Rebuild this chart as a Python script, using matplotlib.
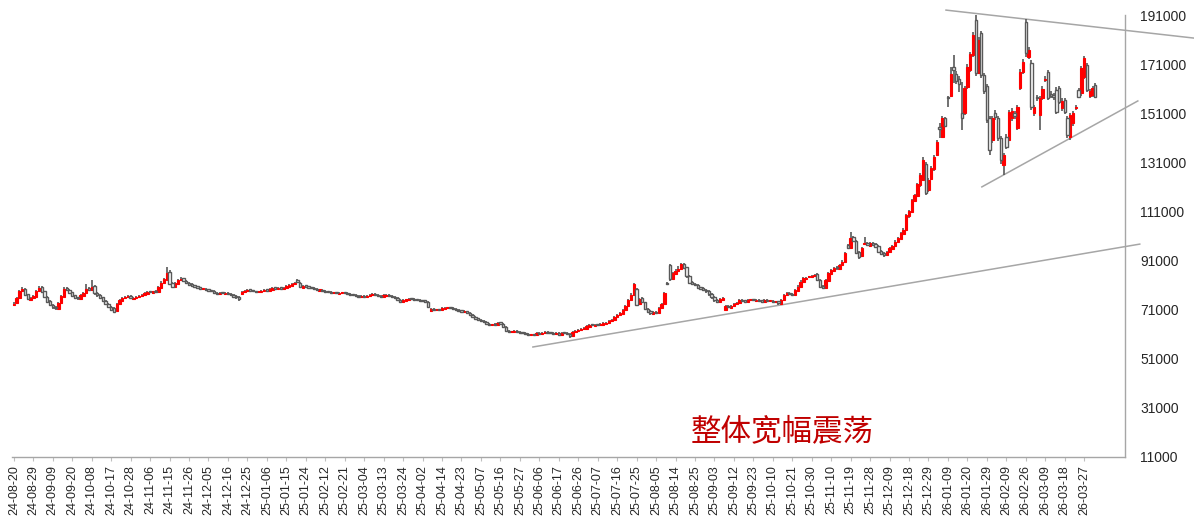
import matplotlib
matplotlib.use("Agg")
import matplotlib.pyplot as plt
import numpy as np

# daily OHLC in thousands
opens = [
    72.8, 73.6, 75.6, 78.4, 79.4, 77.2, 75.0, 75.9, 76.2, 78.5,
    80.2, 78.4, 76.1, 74.4, 72.9, 72.2, 71.4, 73.6, 76.3, 79.8,
    79.2, 78.0, 76.8, 75.9, 75.4, 76.6, 77.6, 79.8, 79.0, 80.6,
    77.8, 77.0, 76.0, 74.7, 73.4, 72.2, 71.6, 70.6, 73.2, 74.6,
    75.6, 76.0, 76.4, 75.4, 75.7, 76.0, 76.4, 77.1, 77.5, 78.4,
    77.8, 78.6, 78.2, 80.0, 81.8, 83.2, 86.4, 81.8, 80.2, 81.6,
    83.2, 83.8, 82.8, 82.0, 81.4, 80.6, 80.5, 80.1, 79.3, 79.5,
    79.2, 78.9, 78.6, 77.9, 77.3, 77.9, 77.4, 77.9, 77.3, 77.1,
    76.5, 76.2, 77.4, 78.0, 78.4, 79.1, 78.9, 78.5, 78.0, 78.3,
    78.6, 79.3, 78.5, 79.2, 79.9, 79.5, 79.9, 79.5, 79.9, 80.4,
    80.8, 81.3, 83.2, 82.0, 80.0, 80.8, 80.5, 80.1, 79.9, 79.5,
    78.8, 79.1, 78.7, 78.4, 78.1, 77.6, 77.9, 77.5, 77.6, 77.9,
    77.7, 77.3, 77.1, 77.0, 76.7, 76.2, 76.5, 76.1, 76.5, 76.9,
    77.5, 77.1, 76.7, 76.2, 76.7, 77.1, 76.5, 76.1, 75.7, 75.1,
    74.2, 74.7, 74.9, 75.5, 75.3, 75.1, 74.9, 74.5, 74.5, 74.2,
    70.6, 71.3, 70.8, 71.1, 70.8, 71.4, 71.5, 71.9, 71.7, 71.3,
    71.0, 70.7, 70.1, 70.3, 69.6, 68.9, 68.2, 67.5, 66.9, 66.5,
    66.0, 65.3, 64.6, 65.0, 64.9, 65.8, 65.3, 64.0, 62.4, 61.8,
    61.9, 62.3, 62.1, 61.7, 61.5, 61.1, 60.6, 60.9, 60.6, 61.5,
    61.1, 61.3, 62.1, 61.7, 61.5, 61.1, 61.5, 60.7, 61.5, 61.5,
    61.1, 60.3, 61.9, 62.3, 62.6, 63.1, 63.3, 64.1, 64.9, 64.5,
    64.9, 64.7, 64.9, 65.3, 65.5, 66.3, 66.7, 68.0, 68.7, 69.4,
    70.8, 72.5, 74.8, 76.8, 79.5, 73.2, 75.8, 74.0, 71.4, 70.4,
    69.4, 70.2, 69.8, 71.5, 73.3, 81.8, 89.0, 83.4, 85.6, 86.6,
    87.6, 89.6, 88.2, 84.8, 82.2, 81.6, 81.2, 79.9, 79.8, 79.2,
    78.6, 77.4, 76.2, 75.0, 74.1, 75.0, 71.0, 72.6, 71.8, 72.4,
    73.2, 73.7, 75.1, 74.8, 74.2, 74.8, 75.2, 74.6, 75.0, 74.7,
    74.2, 75.0, 74.4, 74.7, 74.0, 74.4, 73.5, 74.8, 76.8, 77.8,
    77.4, 76.9, 78.8, 80.2, 82.2, 83.6, 84.2, 84.3, 84.6, 85.4,
    83.2, 80.6, 79.7, 82.8, 85.6, 86.8, 88.0, 87.6, 89.0, 90.4,
    97.2, 96.0, 100.4, 98.8, 94.4, 92.8, 97.8, 98.2, 97.1, 98.2,
    97.6, 96.9, 94.8, 94.0, 93.1, 94.4, 95.8, 96.8, 98.5, 99.9,
    101.9, 103.4, 109.0, 110.6, 115.2, 117.2, 121.6, 124.0, 130.5, 119.7,
    124.4, 128.2, 134.0, 145.5, 141.5, 149.0, 157.5, 158.0, 170.0, 167.0,
    165.0, 151.0, 151.0, 161.8, 168.5, 174.7, 189.0, 167.5, 183.5, 166.6,
    162.0, 149.0, 140.1, 151.0, 149.0, 141.0, 129.9, 141.4, 140.1, 149.0,
    151.0, 145.0, 161.2, 167.9, 188.0, 174.0, 171.5, 151.0, 157.5, 150.3,
    157.0, 164.5, 167.9, 159.0, 158.5, 160.5, 161.2, 153.0, 156.4, 149.0,
    141.4, 147.0, 153.2, 160.5, 159.1, 165.9, 170.6, 158.0, 158.5, 162.5,
]
highs = [
    74.0, 76.2, 79.2, 80.3, 79.8, 77.5, 76.3, 76.9, 79.0, 80.6,
    80.8, 78.7, 76.5, 74.8, 73.3, 72.6, 74.2, 76.9, 80.2, 80.4,
    79.6, 78.3, 77.1, 76.3, 77.2, 78.3, 81.4, 80.3, 83.2, 81.0,
    78.2, 77.4, 76.3, 75.0, 73.7, 72.5, 72.0, 73.8, 75.2, 76.3,
    76.5, 76.8, 76.8, 76.2, 76.6, 77.0, 77.4, 78.0, 78.7, 78.8,
    78.8, 79.0, 80.6, 82.5, 84.0, 88.2, 87.0, 82.2, 82.3, 83.6,
    84.2, 84.1, 83.1, 82.3, 81.7, 81.0, 80.8, 80.4, 79.8, 79.8,
    79.5, 79.2, 78.9, 78.2, 78.2, 78.2, 78.2, 78.2, 77.6, 77.4,
    76.8, 76.5, 78.7, 79.0, 79.5, 79.4, 79.2, 78.8, 78.8, 79.2,
    79.6, 79.6, 79.8, 80.2, 80.2, 80.2, 80.2, 80.4, 81.0, 81.5,
    81.9, 82.3, 83.6, 82.3, 81.0, 81.1, 80.8, 80.4, 80.2, 79.8,
    79.4, 79.4, 79.0, 78.7, 78.4, 78.2, 78.2, 78.1, 78.2, 78.2,
    78.0, 77.6, 77.4, 77.3, 77.0, 76.8, 76.8, 77.0, 77.4, 77.8,
    77.8, 77.4, 77.0, 77.2, 77.4, 77.4, 76.8, 76.4, 76.0, 75.4,
    75.2, 75.4, 75.8, 75.8, 75.6, 75.4, 75.2, 74.8, 74.8, 74.4,
    71.6, 71.6, 71.4, 71.4, 71.9, 72.0, 72.2, 72.2, 72.0, 71.6,
    71.3, 71.0, 70.8, 70.6, 69.9, 69.2, 68.5, 67.8, 67.2, 66.8,
    66.3, 65.6, 65.3, 65.4, 66.1, 66.1, 65.6, 64.3, 62.7, 62.4,
    62.6, 62.6, 62.4, 62.0, 61.8, 61.4, 61.2, 61.2, 61.8, 61.8,
    61.8, 62.4, 62.4, 62.0, 61.8, 61.8, 61.8, 61.8, 61.8, 61.8,
    61.4, 62.4, 62.8, 63.1, 63.6, 63.8, 64.6, 65.2, 65.2, 65.2,
    65.2, 65.4, 65.8, 66.0, 66.8, 67.2, 68.5, 69.2, 70.0, 71.4,
    73.1, 75.4, 77.6, 82.0, 80.0, 75.9, 76.2, 74.3, 71.8, 70.8,
    70.5, 70.6, 72.0, 73.7, 78.3, 82.2, 89.6, 86.3, 87.4, 88.6,
    90.2, 90.0, 88.5, 85.1, 82.6, 82.0, 81.5, 80.3, 80.1, 79.5,
    78.9, 77.7, 76.5, 75.4, 75.6, 76.2, 72.8, 73.0, 73.0, 73.8,
    74.2, 75.3, 75.5, 75.1, 75.3, 75.5, 75.5, 75.3, 75.3, 75.0,
    75.3, 75.3, 75.0, 75.0, 74.7, 74.7, 75.3, 77.4, 78.0, 78.1,
    77.7, 79.4, 80.9, 82.9, 84.3, 84.5, 84.9, 85.3, 85.7, 85.8,
    83.5, 81.0, 83.4, 86.3, 87.5, 88.3, 88.6, 89.7, 91.1, 94.6,
    97.8, 102.8, 101.0, 99.2, 94.8, 96.5, 100.5, 98.6, 98.5, 98.6,
    98.0, 97.2, 95.2, 94.4, 95.0, 96.4, 97.4, 99.2, 100.6, 102.6,
    104.2, 110.0, 111.6, 116.1, 118.2, 122.6, 126.8, 133.0, 131.0, 124.5,
    129.4, 134.0, 140.2, 147.2, 149.8, 149.6, 158.2, 170.0, 174.7, 168.0,
    166.2, 163.8, 162.0, 171.0, 176.0, 184.2, 191.0, 182.0, 184.5, 167.4,
    163.0, 149.8, 150.0, 152.5, 150.0, 141.8, 135.0, 142.5, 152.5, 153.2,
    152.0, 154.4, 169.0, 173.2, 189.5, 178.0, 172.5, 154.5, 158.6, 158.0,
    162.0, 166.0, 168.8, 160.0, 159.4, 161.5, 162.2, 157.0, 157.4, 149.8,
    151.2, 152.0, 154.4, 161.4, 170.2, 174.5, 171.5, 161.0, 162.0, 163.4,
]
lows = [
    72.4, 73.3, 75.3, 78.0, 76.6, 74.8, 74.6, 75.5, 75.9, 78.2,
    77.8, 75.6, 73.9, 72.4, 71.4, 71.0, 71.1, 73.3, 76.0, 78.5,
    77.4, 76.2, 75.3, 75.1, 75.0, 76.3, 77.3, 78.7, 78.6, 77.1,
    76.3, 75.5, 74.0, 72.8, 71.5, 70.4, 69.6, 70.3, 72.9, 74.3,
    75.2, 75.7, 75.2, 75.0, 75.4, 75.7, 76.1, 76.8, 77.2, 77.6,
    77.4, 77.6, 77.9, 79.7, 81.5, 82.9, 81.0, 79.9, 79.8, 81.2,
    82.8, 82.2, 81.4, 80.8, 80.4, 80.0, 79.6, 79.2, 79.0, 78.6,
    78.4, 78.0, 77.4, 77.0, 77.0, 77.2, 77.1, 76.8, 76.6, 75.9,
    75.2, 74.6, 77.0, 77.7, 78.1, 78.4, 78.0, 77.8, 77.7, 78.0,
    78.3, 78.2, 78.2, 78.9, 79.2, 79.2, 79.2, 79.2, 79.6, 80.1,
    80.5, 81.0, 81.8, 79.8, 79.7, 80.0, 79.6, 79.4, 79.0, 78.6,
    78.5, 78.2, 77.9, 77.6, 77.3, 77.3, 77.2, 77.2, 77.3, 77.2,
    76.8, 76.6, 76.5, 76.2, 75.9, 75.9, 75.8, 75.8, 76.2, 76.6,
    76.6, 76.2, 75.9, 75.9, 76.4, 76.0, 75.6, 75.2, 74.6, 73.8,
    73.9, 74.4, 74.6, 74.8, 74.6, 74.4, 74.2, 74.0, 73.9, 71.6,
    70.2, 70.5, 70.5, 70.5, 70.5, 71.1, 71.2, 71.2, 70.8, 70.5,
    70.2, 69.8, 69.8, 69.1, 68.4, 67.7, 67.0, 66.4, 66.0, 65.7,
    64.8, 64.4, 64.3, 64.4, 64.6, 64.8, 63.7, 61.9, 61.6, 61.5,
    61.6, 61.6, 61.2, 61.0, 60.6, 60.3, 60.3, 60.3, 60.3, 60.8,
    60.8, 61.0, 61.2, 61.0, 60.8, 60.8, 60.4, 60.4, 61.0, 60.6,
    59.6, 60.0, 61.6, 62.0, 62.3, 62.8, 63.0, 63.8, 64.2, 64.2,
    64.4, 64.4, 64.6, 65.0, 65.2, 66.0, 66.4, 67.7, 68.4, 69.1,
    70.5, 72.2, 74.5, 76.5, 72.4, 72.8, 73.8, 70.7, 69.7, 69.0,
    68.9, 69.1, 69.5, 71.2, 73.0, 80.9, 82.8, 83.0, 85.2, 86.2,
    87.2, 87.5, 84.1, 81.5, 80.9, 80.5, 79.3, 79.1, 78.5, 77.9,
    76.7, 75.5, 74.3, 73.8, 73.8, 74.7, 70.5, 71.6, 71.5, 72.1,
    72.9, 73.4, 74.2, 73.9, 73.9, 74.5, 74.4, 74.3, 74.2, 73.9,
    73.9, 74.2, 74.1, 73.8, 73.7, 73.1, 73.2, 74.5, 76.5, 76.8,
    76.6, 76.6, 78.5, 79.9, 81.9, 83.2, 83.8, 84.0, 84.3, 82.5,
    79.9, 79.3, 79.4, 82.5, 85.3, 86.5, 87.3, 87.3, 88.7, 90.1,
    95.6, 95.6, 98.5, 93.5, 91.8, 92.4, 97.2, 96.8, 96.7, 96.9,
    96.2, 94.1, 93.3, 92.6, 92.8, 94.1, 95.5, 96.5, 98.2, 99.6,
    101.5, 103.1, 108.5, 110.2, 114.8, 116.8, 121.0, 123.5, 117.5, 119.0,
    123.8, 127.6, 133.4, 141.0, 140.8, 145.2, 153.6, 157.5, 163.2, 162.8,
    159.8, 144.2, 150.2, 161.0, 167.8, 174.0, 166.2, 166.8, 165.5, 158.8,
    147.0, 134.0, 139.0, 148.2, 139.8, 130.5, 125.8, 136.5, 139.5, 148.0,
    148.8, 144.2, 160.5, 167.0, 174.0, 173.0, 152.5, 150.0, 156.0, 144.2,
    156.2, 163.6, 156.2, 157.0, 156.5, 150.5, 154.8, 152.0, 150.6, 140.8,
    140.2, 146.0, 152.4, 157.0, 158.2, 165.0, 159.6, 157.0, 157.6, 157.0,
]
closes = [
    73.5, 75.8, 78.5, 79.6, 77.0, 75.2, 75.8, 76.4, 78.6, 80.0,
    78.2, 76.0, 74.2, 72.8, 72.0, 71.6, 73.8, 76.5, 79.6, 79.0,
    77.8, 76.6, 75.8, 75.6, 76.8, 77.8, 79.6, 79.2, 80.4, 77.6,
    76.8, 75.9, 74.5, 73.2, 72.0, 71.0, 70.2, 73.4, 74.8, 75.8,
    76.0, 76.3, 75.6, 75.8, 76.2, 76.6, 77.0, 77.6, 78.2, 78.0,
    78.4, 78.0, 80.2, 82.0, 83.4, 86.0, 81.6, 80.4, 81.8, 83.0,
    83.6, 82.6, 81.8, 81.2, 80.8, 80.4, 80.0, 79.6, 79.4, 79.0,
    78.8, 78.4, 77.8, 77.4, 77.8, 77.6, 77.8, 77.2, 77.0, 76.3,
    76.0, 75.2, 78.2, 78.6, 79.0, 78.8, 78.4, 78.2, 78.4, 78.8,
    79.2, 78.6, 79.4, 79.8, 79.6, 79.8, 79.6, 80.0, 80.6, 81.0,
    81.4, 81.8, 82.2, 80.2, 80.6, 80.4, 80.0, 79.8, 79.4, 79.0,
    79.0, 78.6, 78.3, 78.0, 77.7, 77.8, 77.6, 77.7, 77.8, 77.6,
    77.2, 77.0, 76.9, 76.6, 76.3, 76.4, 76.2, 76.6, 77.0, 77.4,
    77.0, 76.6, 76.3, 76.8, 77.0, 76.4, 76.0, 75.6, 75.0, 74.3,
    74.8, 75.0, 75.4, 75.2, 75.0, 74.8, 74.6, 74.4, 74.3, 72.0,
    71.2, 70.9, 71.0, 70.9, 71.5, 71.6, 71.8, 71.6, 71.2, 70.9,
    70.6, 70.2, 70.4, 69.5, 68.8, 68.1, 67.4, 66.8, 66.4, 66.1,
    65.2, 64.8, 64.9, 64.8, 65.7, 65.2, 64.1, 62.3, 62.0, 62.0,
    62.2, 62.0, 61.6, 61.4, 61.0, 60.7, 60.8, 60.7, 61.4, 61.2,
    61.4, 62.0, 61.6, 61.4, 61.2, 61.4, 60.8, 61.4, 61.4, 61.0,
    60.2, 62.0, 62.4, 62.7, 63.2, 63.4, 64.2, 64.8, 64.6, 64.8,
    64.8, 65.0, 65.4, 65.6, 66.4, 66.8, 68.1, 68.8, 69.5, 70.9,
    72.6, 74.9, 77.0, 81.4, 73.0, 75.4, 74.3, 71.2, 70.2, 69.5,
    70.0, 69.6, 71.6, 73.2, 77.8, 81.6, 83.4, 85.8, 86.8, 87.4,
    89.4, 88.0, 84.6, 82.0, 81.4, 81.0, 79.8, 79.6, 79.0, 78.4,
    77.2, 76.0, 74.8, 74.3, 75.2, 75.7, 72.4, 72.0, 72.6, 73.4,
    73.8, 74.9, 74.6, 74.3, 74.9, 75.1, 74.8, 74.9, 74.6, 74.3,
    74.9, 74.6, 74.6, 74.2, 74.3, 73.6, 74.9, 77.0, 77.6, 77.2,
    77.0, 79.0, 80.4, 82.4, 83.8, 84.0, 84.4, 84.8, 85.1, 83.0,
    80.4, 79.8, 83.0, 85.8, 87.0, 87.8, 87.8, 89.2, 90.6, 94.0,
    96.2, 100.2, 99.0, 94.0, 92.6, 96.0, 98.0, 97.3, 98.0, 97.4,
    96.7, 94.6, 93.8, 93.3, 94.6, 96.0, 97.0, 98.7, 100.1, 102.1,
    103.6, 109.5, 111.0, 115.5, 117.5, 122.0, 126.0, 132.0, 118.5, 123.8,
    128.7, 133.3, 139.4, 144.5, 149.0, 146.0, 157.0, 167.0, 168.5, 164.0,
    163.0, 149.0, 161.2, 170.0, 175.0, 182.9, 167.5, 180.8, 166.6, 160.0,
    148.2, 136.0, 149.0, 149.5, 141.0, 132.0, 134.0, 137.4, 151.6, 152.0,
    150.0, 153.6, 167.9, 172.0, 175.4, 176.7, 153.6, 153.6, 157.0, 157.1,
    161.0, 165.0, 157.1, 158.0, 157.5, 151.6, 155.7, 156.0, 151.6, 142.1,
    150.3, 151.0, 153.6, 157.8, 169.3, 173.4, 160.5, 160.0, 161.2, 157.8,
]

tick_labels = [
    '24-08-20', '24-08-29', '24-09-09', '24-09-20', '24-10-08', '24-10-17',
    '24-10-28', '24-11-06', '24-11-15', '24-11-26', '24-12-05', '24-12-16',
    '24-12-25', '25-01-06', '25-01-15', '25-01-24', '25-02-12', '25-02-21',
    '25-03-04', '25-03-13', '25-03-24', '25-04-02', '25-04-14', '25-04-23',
    '25-05-07', '25-05-16', '25-05-27', '25-06-06', '25-06-17', '25-06-26',
    '25-07-07', '25-07-16', '25-07-25', '25-08-05', '25-08-14', '25-08-25',
    '25-09-03', '25-09-12', '25-09-23', '25-10-10', '25-10-21', '25-10-30',
    '25-11-10', '25-11-19', '25-11-28', '25-12-09', '25-12-18', '25-12-29',
    '26-01-09', '26-01-20', '26-01-29', '26-02-09', '26-02-26', '26-03-09',
    '26-03-18', '26-03-27',
]
y_ticks = [11000, 31000, 51000, 71000, 91000, 111000, 131000, 151000, 171000, 191000]

# hand-drawn trend lines: (candle index, price)
support_long = [(186.7, 55800), (405.0, 97700)]
resist_top = [(335.3, 193000), (424.5, 181600)]
support_short = [(348.2, 121000), (404.3, 156000)]

note_text = '整体宽幅震荡'

o = np.array(opens) * 1000
h = np.array(highs) * 1000
l = np.array(lows) * 1000
c = np.array(closes) * 1000
x = np.arange(len(c))
up = c >= o

fig = plt.figure(figsize=(11.94, 5.23), dpi=100)
ax = fig.add_axes([0.010, 0.1262, 0.932, 0.8451])

wick = '#595959'
ax.vlines(x, l, h, color=wick, linewidth=1.2, zorder=2)
body_lo = np.minimum(o, c)
body_h = np.maximum(np.abs(c - o), 450)
ax.bar(x[up], body_h[up], bottom=body_lo[up], width=0.85,
       color='#FF0000', edgecolor='#FF0000', linewidth=0.8, zorder=3)
ax.bar(x[~up], body_h[~up], bottom=body_lo[~up], width=0.85,
       color='white', edgecolor=wick, linewidth=1.0, zorder=3)

for line in (support_long, resist_top, support_short):
    xs, ys = zip(*line)
    ax.plot(xs, ys, color='#A6A6A6', linewidth=1.1, clip_on=False, zorder=1)

ax.set_xlim(-0.7, 399.6)
ax.set_ylim(11000, 191000)

ax.set_xticks(np.arange(len(tick_labels)) * 7)
ax.set_xticklabels(tick_labels, rotation=90, fontsize=9,
                   family=['Liberation Sans', 'DejaVu Sans'])
ax.set_yticks(y_ticks)
ax.set_yticklabels([str(v) for v in y_ticks], fontsize=10,
                   family=['Liberation Sans', 'DejaVu Sans'])
ax.yaxis.tick_right()
ax.tick_params(axis='y', length=0, pad=11, colors='#262626')
ax.tick_params(axis='x', length=3, color='#BFBFBF', pad=3, colors='#262626')

for side in ('top', 'left'):
    ax.spines[side].set_visible(False)
for side in ('bottom', 'right'):
    ax.spines[side].set_color('#A6A6A6')
    ax.spines[side].set_linewidth(1.0)

ax.text(276.5, 21500, note_text, color='#C00000', fontsize=22,
        ha='center', va='center', family=['Noto Sans CJK SC', 'DejaVu Sans'])

fig.savefig('out.png', dpi=100)
